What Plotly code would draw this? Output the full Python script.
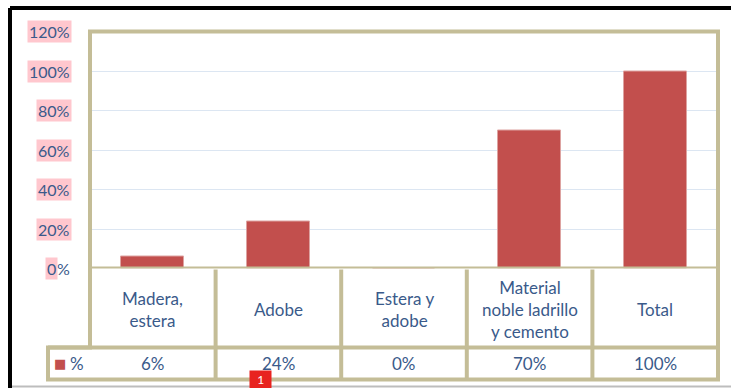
import plotly.graph_objects as go

# Data
categories = ["Madera,<br>estera", "Adobe", "Estera y<br>adobe",
              "Material<br>noble ladrillo<br>y cemento", "Total"]
values = [6, 24, 0, 70, 100]
tick_values = [0, 20, 40, 60, 80, 100, 120]
tick_labels = ["0%", "20%", "40%", "60%", "80%", "100%", "120%"]
series_name = "%"

W, H = 731, 388
BAR = "#C24F4D"
TAN = "#C4BD97"
TEXT = "#3A5A8A"
PINK = "#FFC7CE"
FONT = "Lato"


def px(x):
    return x / W


def py(y):
    return 1 - y / H


xs = list(range(len(categories)))

fig = go.Figure()
fig.add_trace(go.Bar(
    x=xs, y=values, width=0.5,
    marker=dict(color=BAR, line=dict(color="#DDA3A1", width=1)),
    showlegend=False, hoverinfo="skip",
))

shapes = []
line_style = dict(color=TAN, width=4)

# outer contour of plot area + data table
shapes.append(dict(
    type="path", xref="paper", yref="paper",
    path=(f"M {px(90)},{py(31.5)} L {px(718)},{py(31.5)} L {px(718)},{py(379.5)} "
          f"L {px(48)},{py(379.5)} L {px(48)},{py(347.5)} L {px(90)},{py(347.5)} Z"),
    line=line_style, layer="above",
))
# axis baseline / table top
shapes.append(dict(type="line", xref="x", yref="y", x0=-0.5, x1=len(categories) - 0.5,
                   y0=0, y1=0, line=line_style, layer="above"))
# row separator and column separators
shapes.append(dict(type="line", xref="paper", yref="paper", x0=px(48), x1=px(718),
                   y0=py(347.5), y1=py(347.5), line=line_style, layer="above"))
for i in range(len(categories) - 1):
    shapes.append(dict(type="line", xref="x", yref="paper", x0=i + 0.5, x1=i + 0.5,
                       y0=py(269.5), y1=py(379.5), line=line_style, layer="above"))

# page frame
shapes.append(dict(type="line", xref="paper", yref="paper", x0=px(10), x1=1,
                   y0=py(8), y1=py(8), line=dict(color="black", width=4)))
shapes.append(dict(type="line", xref="paper", yref="paper", x0=px(10), x1=px(10),
                   y0=py(8), y1=0, line=dict(color="black", width=4)))
shapes.append(dict(type="line", xref="paper", yref="paper", x0=px(12), x1=1,
                   y0=py(386.5), y1=py(386.5), line=dict(color="#BDBDBD", width=2)))

annotations = []
# y tick labels with highlight
for v, lab in zip(tick_values, tick_labels):
    if v == 0:
        annotations.append(dict(xref="paper", yref="y", x=px(72), y=v, text="%",
                                xanchor="right", yanchor="middle", showarrow=False,
                                font=dict(family=FONT, size=16, color=TEXT), borderpad=1))
        annotations.append(dict(xref="paper", yref="y", x=px(58), y=v, text="0",
                                xanchor="right", yanchor="middle", showarrow=False,
                                bgcolor=PINK,
                                font=dict(family=FONT, size=16, color=TEXT), borderpad=1))
    else:
        annotations.append(dict(xref="paper", yref="y", x=px(72), y=v, text=lab,
                                xanchor="right", yanchor="middle", showarrow=False,
                                bgcolor=PINK,
                                font=dict(family=FONT, size=16, color=TEXT), borderpad=1))

# data table: category row and value row
for i, (c, v) in enumerate(zip(categories, values)):
    annotations.append(dict(xref="x", yref="paper", x=i, y=py(309), text=c,
                            xanchor="center", yanchor="middle", showarrow=False,
                            font=dict(family=FONT, size=17, color=TEXT)))
    annotations.append(dict(xref="x", yref="paper", x=i, y=py(363.5), text=f"{v}%",
                            xanchor="center", yanchor="middle", showarrow=False,
                            font=dict(family=FONT, size=17, color=TEXT)))

# legend key in the table
annotations.append(dict(xref="paper", yref="paper", x=px(60), y=py(363), text="■",
                        xanchor="center", yanchor="middle", showarrow=False,
                        font=dict(family="DejaVu Sans", size=13, color=BAR)))
annotations.append(dict(xref="paper", yref="paper", x=px(77), y=py(363), text=series_name,
                        xanchor="center", yanchor="middle", showarrow=False,
                        font=dict(family=FONT, size=17, color=TEXT)))

# page number badge
annotations.append(dict(xref="paper", yref="paper", x=px(260), y=py(370),
                        text="&nbsp;&nbsp;1&nbsp;&nbsp;",
                        xanchor="center", yanchor="top", showarrow=False,
                        bgcolor="#E8231F", borderpad=1,
                        font=dict(family=FONT, size=12, color="white")))

fig.update_layout(
    width=W, height=H,
    margin=dict(l=0, r=0, t=0, b=0),
    paper_bgcolor="white", plot_bgcolor="white",
    bargap=0,
    xaxis=dict(domain=[px(90), px(718)], range=[-0.5, len(categories) - 0.5],
               showticklabels=False, showgrid=False, zeroline=False, fixedrange=True),
    yaxis=dict(domain=[py(268.5), py(31.5)], range=[0, 120], tickvals=tick_values,
               showticklabels=False, showgrid=True, gridcolor="#DCE6F2", gridwidth=1,
               zeroline=False, fixedrange=True),
    shapes=shapes,
    annotations=annotations,
    showlegend=False,
)

fig.write_html("out.html")
